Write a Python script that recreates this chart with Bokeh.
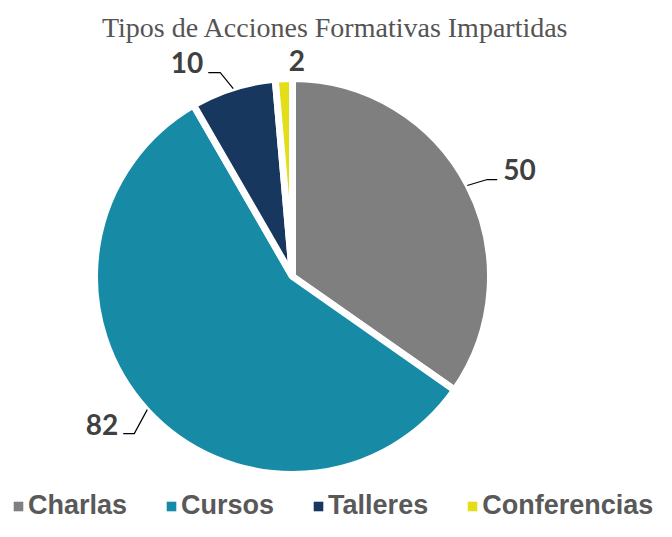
import math
from bokeh.plotting import figure
from bokeh.models import Range1d, ColumnDataSource, Legend, LegendItem, Label
from bokeh.core.properties import value
from bokeh.embed import file_html
from bokeh.resources import INLINE

# ---------------- data ----------------
categories = ["Charlas", "Cursos", "Talleres", "Conferencias"]
counts = [50, 82, 10, 2]
colors = ["#7F7F7F", "#178BA6", "#17375E", "#E3DE17"]
title_text = "Tipos de Acciones Formativas Impartidas"

# ---------------- layout ----------------
W, H = 656, 521


def Y(py):
    # picture pixel y (from top) -> data y (data units == screen pixels)
    return H - py


CX, CY = 292, Y(276)
R = 198
EDGE_R = 197

# label nudges relative to slice edge point at the mid-angle (dx right, dy down, px)
label_nudge = [(36, -16), (-29, 15), (-30, -26), (13, -19)]
label_align = ["left", "right", "right", "center"]
# leader lines: (elbow, end) nudges; None = no leader
leader_nudge = [((20, -6), (30, -6)), ((-13, 24), (-24, 24)), ((-13, -16), (-25, -16)), None]

p = figure(width=W, height=H, x_range=Range1d(0, W), y_range=Range1d(0, H),
           output_backend="svg", toolbar_location=None, min_border=0,
           x_axis_type=None, y_axis_type=None)
p.outline_line_color = None
p.grid.visible = False
p.background_fill_color = "white"

total = sum(counts)
starts, ends, mids = [], [], []
cum = 0
for c in counts:
    a0 = math.pi / 2 - 2 * math.pi * cum / total
    cum += c
    a1 = math.pi / 2 - 2 * math.pi * cum / total
    starts.append(a0)
    ends.append(a1)
    mids.append((a0 + a1) / 2)

src = ColumnDataSource(dict(cat=categories, count=counts, color=colors, start=starts, end=ends))
p.wedge(x=CX, y=CY, radius=R, start_angle="start", end_angle="end", direction="clock",
        fill_color="color", line_color="white", line_width=7, line_join="bevel", source=src)

# data labels + leader lines
lx, ly, ltxt = [], [], []
xs, ys = [], []
for i, c in enumerate(counts):
    ex = CX + EDGE_R * math.cos(mids[i])
    ey = CY + EDGE_R * math.sin(mids[i])
    dx, dy = label_nudge[i]
    lx.append(ex + dx)
    ly.append(ey - dy)
    ltxt.append(str(c))
    if leader_nudge[i] is not None:
        (bx, by), (tx, ty) = leader_nudge[i]
        xs.append([ex, ex + bx, ex + tx])
        ys.append([ey, ey - by, ey - ty])

p.multi_line(xs=xs, ys=ys, line_color="black", line_width=1.2)
lsrc = ColumnDataSource(dict(x=lx, y=ly, text=ltxt, align=label_align))
p.text(x="x", y="y", text="text", text_align="align", text_baseline="alphabetic",
       text_font=value("Lato"), text_font_style="bold", text_font_size="28px",
       text_color="#404040", source=lsrc)

# title
p.add_layout(Label(x=335, y=Y(27), text=title_text, text_align="center",
                   text_baseline="alphabetic", text_font="Liberation Serif",
                   text_font_size="28px", text_color="#545454"))

# legend (swatch renderers sit outside the visible range; only their legend glyphs show)
items = []
for cat, col in zip(categories, colors):
    r = p.rect(x=[-1000], y=[-1000], width=1, height=1, fill_color=col, line_color=None)
    items.append(LegendItem(label=cat, renderers=[r]))
legend = Legend(items=items, orientation="horizontal", location=(12, 0),
                glyph_width=12, glyph_height=12, label_standoff=4, spacing=38,
                padding=0, margin=0, border_line_color=None, background_fill_alpha=0,
                label_text_font="Liberation Sans", label_text_font_style="bold",
                label_text_font_size="27px", label_text_color="#595959")
p.add_layout(legend, "center")

open("out.html", "w").write(file_html(p, INLINE))
